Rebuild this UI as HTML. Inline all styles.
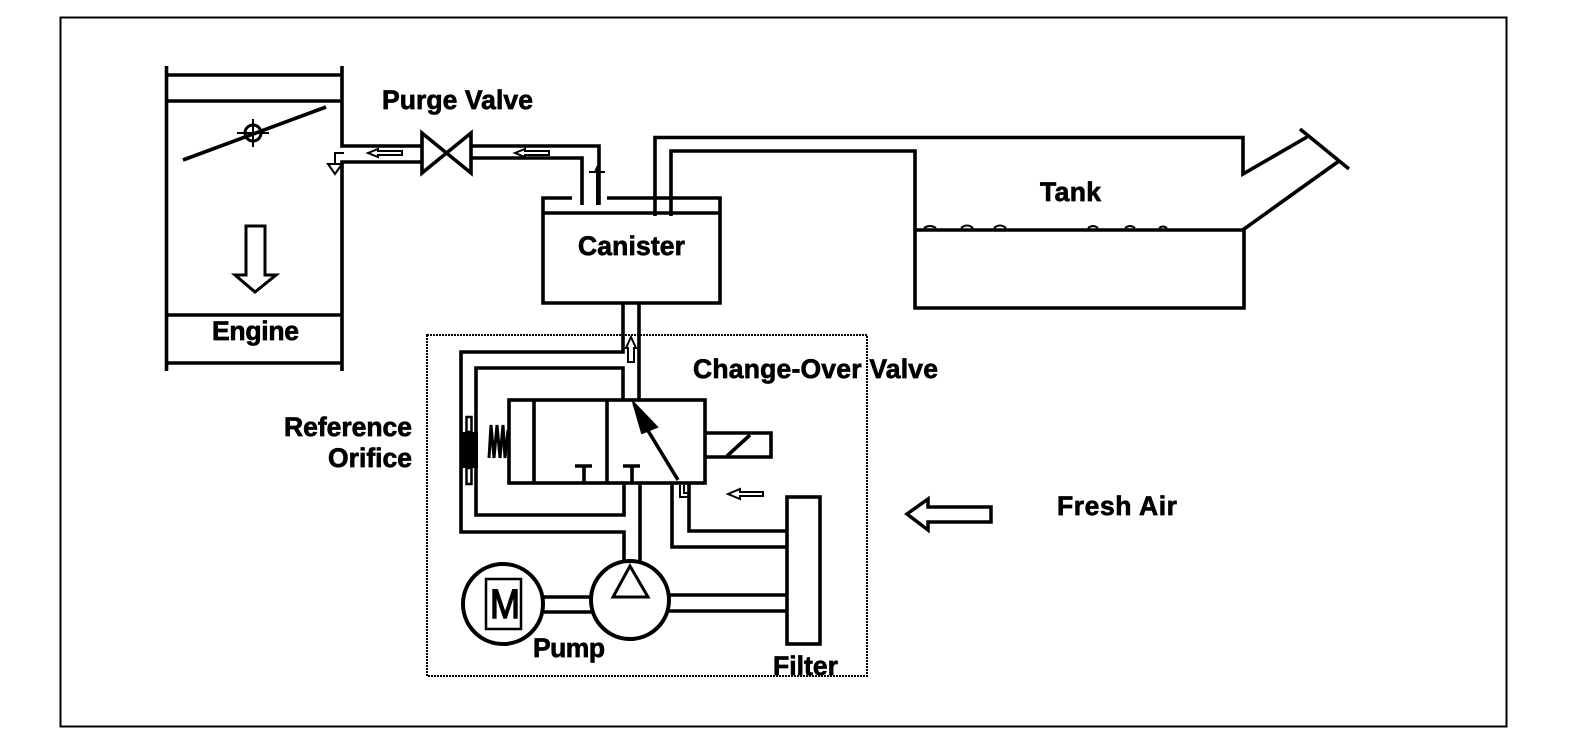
<!DOCTYPE html>
<html><head><meta charset="utf-8"><style>
html,body{margin:0;padding:0;background:#fff}
svg{display:block}
text{font-family:"Liberation Sans",sans-serif;font-weight:bold;font-size:26.5px;fill:#000;stroke:#000;stroke-width:.7}
.l{fill:none;stroke:#000;stroke-width:3.6;stroke-linejoin:miter}
.t{fill:none;stroke:#000;stroke-width:2}
.w{fill:#fff;stroke:#000;stroke-width:2}
</style></head><body>
<svg width="1584" height="752" viewBox="0 0 1584 752" xmlns="http://www.w3.org/2000/svg">
<rect width="1584" height="752" fill="#fff"/>
<!-- frame -->
<rect x="60.5" y="17.500" width="1446" height="709" fill="none" stroke="#000" stroke-width="2"/>
<!-- dotted box -->
<rect x="427" y="335" width="440" height="341" fill="none" stroke="#000" stroke-width="2" stroke-dasharray="2 1"/>
<!-- engine -->
<path class="l" d="M166.500 66V371M342 66V146H422M342 371V162H422M166 75H342M166 101H342M166 315H342M166 363H342" />
<path class="l" d="M183 160L326 107" stroke-width="4"/>
<circle cx="253" cy="133" r="8" fill="none" stroke="#000" stroke-width="3"/>
<path class="t" d="M253 119V147M237 133H269"/>
<path d="M246 226H265V275H276L255 292L235 275H246Z" fill="#fff" stroke="#000" stroke-width="3"/>
<!-- purge valve -->
<path class="l" d="M422 133V173L471 133V173Z" stroke-linejoin="round"/>
<path class="l" d="M471 146H599V205M471 158H582V205"/>
<!-- canister -->
<path class="l" d="M572 198H543V303H720V198H607M542 213H720"/>
<path class="l" d="M655 216V137.500H1243V174L1307 137M671 216V151H915V308H1244V229L1339 161M915 230H1244"/>
<path class="l" d="M1300 129L1349 169"/>
<!-- liquid bumps -->
<path class="t" d="M924 228Q930 224 936 228M961 228Q967 223 973 228M994 228Q1000 223 1006 228M1088 228Q1093 224 1098 228M1125 228Q1130 224 1135 228M1159 228Q1163 225 1167 228"/>
<!-- pipes -->
<path class="l" d="M639 303V400M623 303V352H461V532H624V565M623 400V368H476V515H624V483M640 483V565"/>
<!-- orifice -->
<rect x="460" y="432" width="18" height="36" fill="#000"/>
<rect x="466.500" y="417" width="5" height="15" fill="#fff" stroke="#000" stroke-width="2.500"/>
<rect x="466.500" y="468" width="5" height="16" fill="#fff" stroke="#000" stroke-width="2.500"/>
<!-- spring -->
<path d="M489 458L491 425L494 458L497 425L500 458L503 425L505 458L508 430" fill="none" stroke="#000" stroke-width="3"/>
<!-- valve -->
<rect x="509" y="400" width="196" height="83" class="l"/>
<path class="l" d="M534 400V483M607 400V483M584 483V466M632 483V466"/>
<path class="l" d="M575 466H592M623 466H640"/>
<path d="M633 402L657 427L642 433Z" fill="#000" stroke="#000" stroke-width="2"/>
<path class="l" d="M647 429L678 480"/>
<path class="l" d="M705 433H771V457H705M727 456L750 435"/>
<!-- filter & lines -->
<rect x="787" y="497" width="33" height="147" class="l"/>
<path class="l" d="M672 483V547H787M689 483V531H787M660 595H787M660 611H787M535 597H600M535 612H600"/>
<!-- pump/motor -->
<circle cx="630" cy="600" r="39" fill="#fff" stroke="#000" stroke-width="4"/>
<circle cx="503" cy="604" r="40" fill="#fff" stroke="#000" stroke-width="4"/>
<path d="M630 566L613 597H648Z" fill="none" stroke="#000" stroke-width="3"/>
<rect x="486" y="579" width="35" height="50" fill="none" stroke="#000" stroke-width="2.500"/>
<text x="490" y="618" style="font-size:41px;font-weight:normal;stroke-width:1.5" textLength="30" lengthAdjust="spacingAndGlyphs">M</text>
<!-- small arrows -->
<path class="w" d="M368 153L378 149V151H402V155H378V157Z"/>
<path class="w" d="M515 153L525 149V151H549V155H525V157Z"/>
<path class="t" d="M597 168V205M589 172H605"/>
<path d="M594 172L597 165L600 172Z" fill="#000"/>
<path class="w" d="M631 337L636 348H634V362H628V348H626Z"/>
<path class="w" d="M728 494L740 489V492H763V496H740V499Z"/>
<path class="t" d="M344 153H335V165"/>
<path class="t" d="M328 164L335 174L342 164Z"/>
<path class="t" d="M680 485V497H690M684 485V493H690"/>
<!-- big arrow -->
<path d="M907 514L928 499V507H991V522H928V530Z" fill="#fff" stroke="#000" stroke-width="3.500"/>
<!-- labels -->
<text x="382" y="109" textLength="151">Purge Valve</text>
<text x="212" y="340" textLength="87">Engine</text>
<text x="578" y="255" textLength="107">Canister</text>
<text x="1040" y="201" textLength="61">Tank</text>
<text x="693" y="378" textLength="245">Change-Over Valve</text>
<text x="284" y="436" textLength="128">Reference</text>
<text x="328" y="467" textLength="84">Orifice</text>
<text x="1057" y="515" textLength="120">Fresh Air</text>
<text x="533" y="657" textLength="72">Pump</text>
<text x="773" y="675" textLength="65">Filter</text>
</svg>
</body></html>
